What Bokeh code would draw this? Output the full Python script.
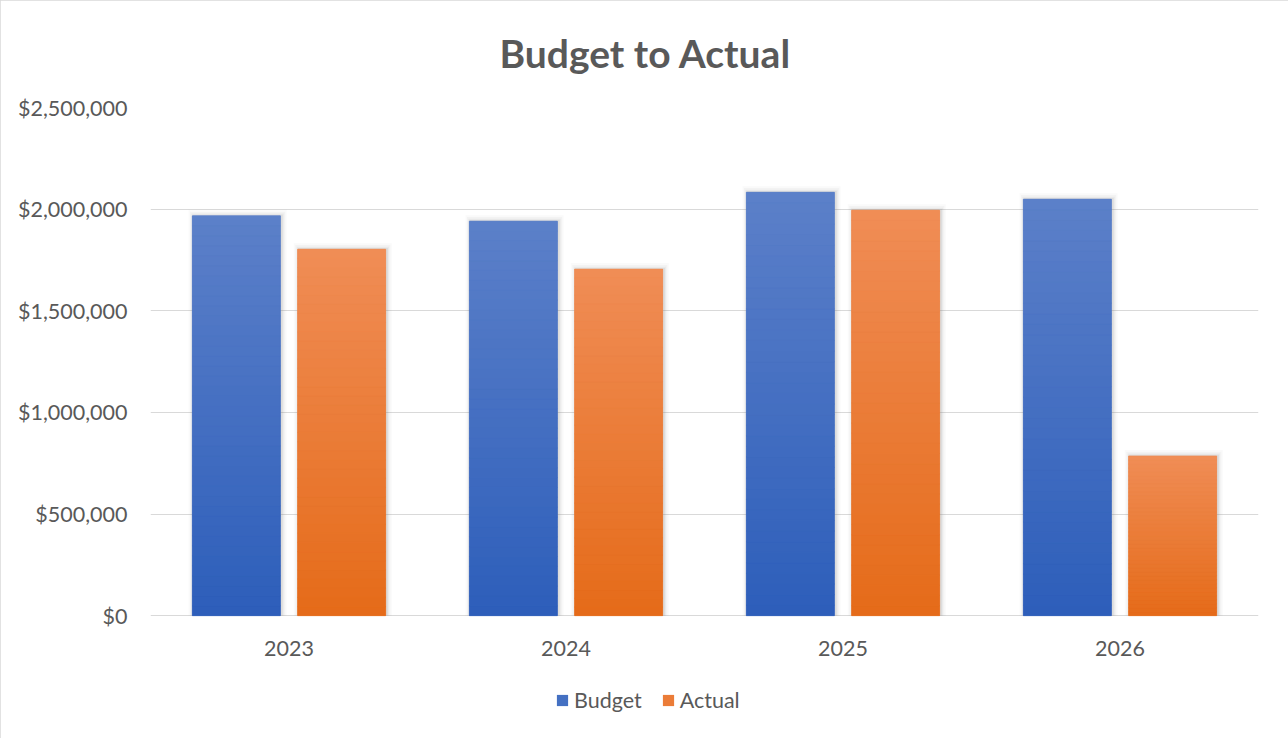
from bokeh.plotting import figure
from bokeh.models import (FactorRange, Range1d, NumeralTickFormatter, FixedTicker,
                          Legend, LegendItem, ColumnDataSource, Title)
from bokeh.core.properties import value
from bokeh.transform import dodge
from bokeh.embed import file_html
from bokeh.resources import INLINE

# ---- data ----
years = ["2023", "2024", "2025", "2026"]
budget = [1967000, 1941000, 2083000, 2049000]
actual = [1803000, 1705000, 1995000, 786000]
y_ticks = [0, 500000, 1000000, 1500000, 2000000, 2500000]
series_names = ["Budget", "Actual"]
chart_title = "Budget to Actual"

FONT = "Lato"
TXT = "#595959"

Y_MAX = 2500000
PLOT_PX = 509                  # pixels from $0 to $2,500,000
FRAME_PX = 738 - 106 - 6       # frame height in pixels
PX_Y = Y_MAX / PLOT_PX         # one screen pixel in y data units
PX_X = 1.0 / 277.0             # one screen pixel in x data units
Y_START = -PX_Y * (FRAME_PX - PLOT_PX)

p = figure(width=1288, height=738, x_range=FactorRange(*years),
           y_range=Range1d(Y_START, Y_MAX), output_backend="svg",
           toolbar_location=None, min_border_left=150, min_border_right=30,
           min_border_top=106, min_border_bottom=6)
p.styles = {"outline": "1px solid #d9d9d9", "outline-offset": "-1px"}
p.outline_line_color = None
p.background_fill_color = "white"
p.border_fill_color = "white"

t = Title(text=chart_title, align="left", offset=349, vertical_align="top")
t.text_font = FONT
t.text_font_size = "39px"
t.text_font_style = "bold"
t.text_color = TXT
t.standoff = 59
p.add_layout(t, "above")

p.xgrid.grid_line_color = None
p.ygrid.grid_line_color = "#d9d9d9"
p.ygrid.grid_line_width = 1
p.yaxis.ticker = FixedTicker(ticks=y_ticks)
p.yaxis.formatter = NumeralTickFormatter(format="$0,0")
p.yaxis.axis_line_color = None
p.yaxis.major_tick_line_color = None
p.yaxis.minor_tick_line_color = None
p.yaxis.major_label_standoff = 17
p.yaxis.major_label_text_font = FONT
p.yaxis.major_label_text_font_size = "21.5px"
p.yaxis.major_label_text_color = TXT
p.xaxis.visible = False

BAR_W = 0.318
OFFS = [-0.19, 0.19]

grad = {
    "Budget": ((0x2D, 0x5E, 0xBA), (0x5C, 0x80, 0xC9)),   # bottom, top
    "Actual": ((0xE5, 0x6B, 0x19), (0xF0, 0x8D, 0x56)),
}
mid = {"Budget": "#4470C2", "Actual": "#EB7C38"}

def hexc(c):
    return "#%02x%02x%02x" % tuple(int(round(v)) for v in c)

legend_items = []
N = 40
for name, vals, off in zip(series_names, [budget, actual], OFFS):
    xs = dodge("x", off, range=p.x_range)
    # soft shadow
    for grow, alpha in [(10, 0.04), (7, 0.06), (4, 0.09), (2, 0.12)]:
        src = ColumnDataSource(dict(x=years, top=[v + grow * 0.6 * PX_Y for v in vals]))
        p.vbar(x=dodge("x", off + 1.2 * PX_X, range=p.x_range), top="top", bottom=0,
               width=BAR_W + grow * PX_X, source=src, fill_color="#808080",
               fill_alpha=alpha, line_color=None)
    base = p.vbar(x=xs, top="top", bottom=0, width=BAR_W,
                  source=ColumnDataSource(dict(x=years, top=vals)),
                  fill_color=mid[name], line_color=None)
    legend_items.append(LegendItem(label=name, renderers=[base]))
    bx, bb, bt, bc = [], [], [], []
    lo, hi = grad[name]
    for yr, v in zip(years, vals):
        for k in range(N):
            f = (k + 0.5) / N
            c = tuple(lo[i] + (hi[i] - lo[i]) * f for i in range(3))
            bx.append(yr)
            bb.append(v * k / N)
            bt.append(v * (k + 1) / N)
            bc.append(hexc(c))
    p.vbar(x=xs, top="top", bottom="bottom", width=BAR_W,
           source=ColumnDataSource(dict(x=bx, top=bt, bottom=bb, color=bc)),
           fill_color="color", line_color="color", line_width=0.6)

# category labels under the $0 line
p.text(x=years, y=[-33 * PX_Y] * len(years), text=years,
       text_font=value(FONT), text_font_size="21.5px", text_color=TXT,
       text_align="center", text_baseline="middle")

legend = Legend(items=legend_items, orientation="horizontal", location=(405, 19))
legend.border_line_color = None
legend.background_fill_alpha = 0
legend.padding = 0
legend.margin = 0
legend.label_text_font = FONT
legend.label_text_font_size = "21.5px"
legend.label_text_color = TXT
legend.glyph_width = 14
legend.glyph_height = 14
legend.label_standoff = 5
legend.spacing = 19
p.add_layout(legend)

open("out.html", "w").write(file_html(p, INLINE))
